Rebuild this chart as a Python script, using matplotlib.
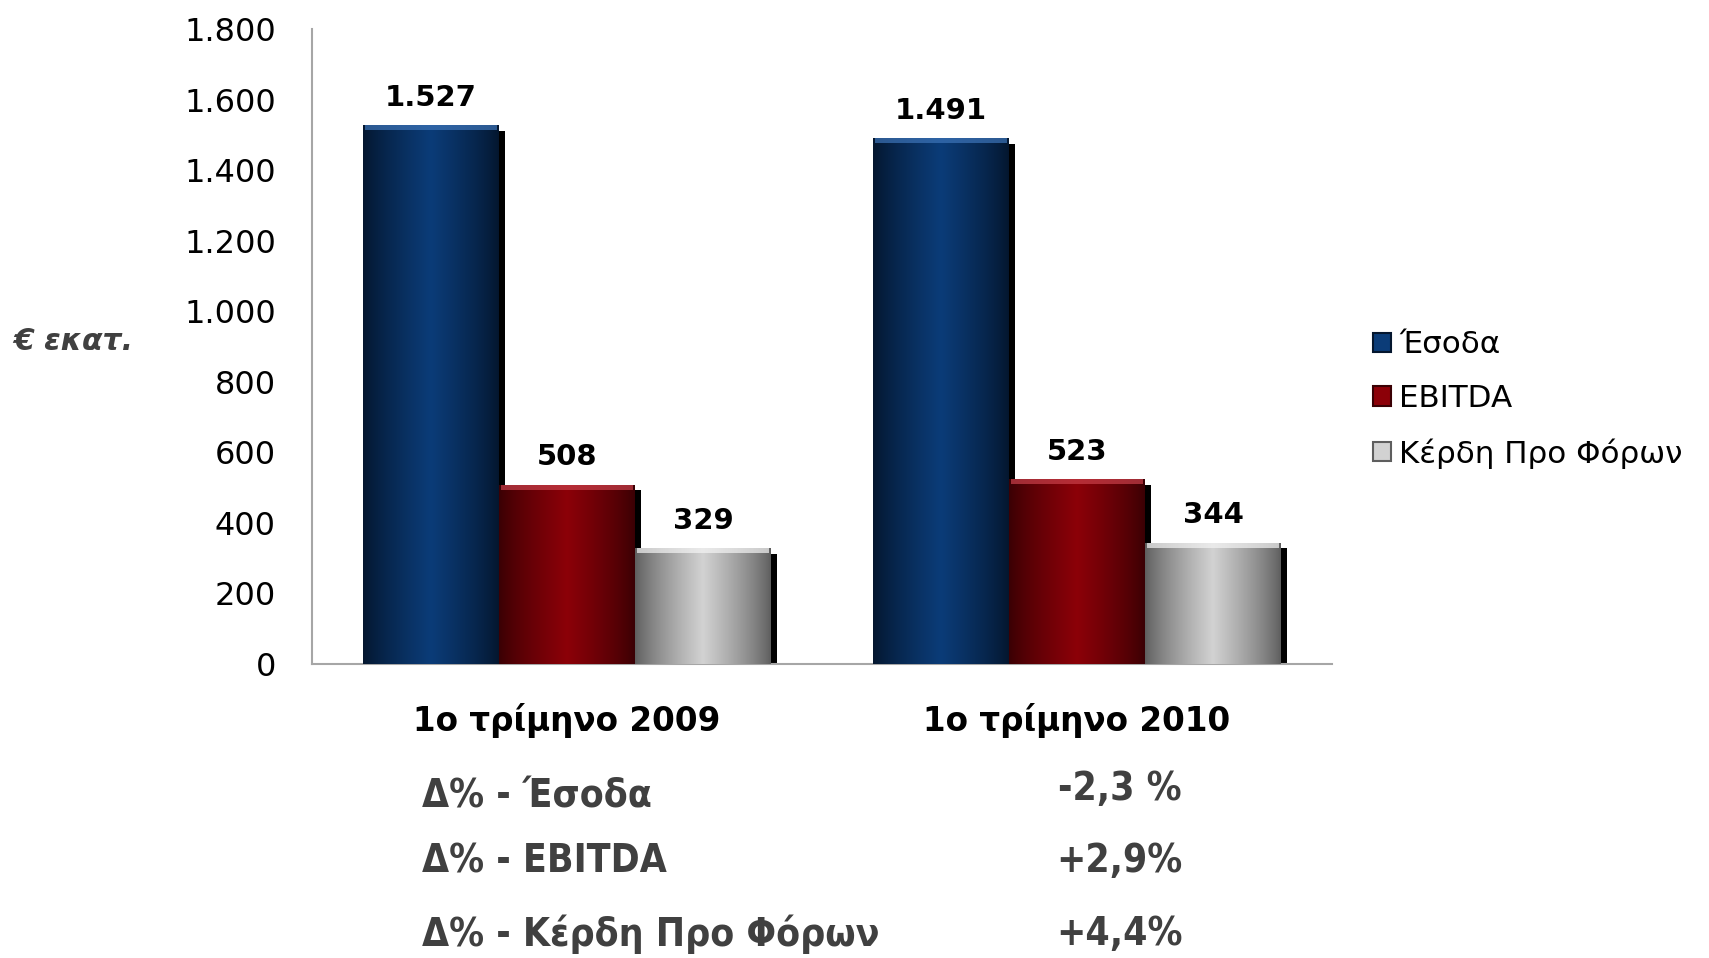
import numpy as np
import matplotlib
matplotlib.use('Agg')
from matplotlib import pyplot as plt
from matplotlib.colors import LinearSegmentedColormap
from matplotlib.patches import Patch

plt.rcParams['font.family'] = ['DejaVu Sans']

# data
categories = ['1ο τρίμηνο 2009', '1ο τρίμηνο 2010']
series_names = ['Έσοδα', 'EBITDA', 'Κέρδη Προ Φόρων']
esoda = [1527, 1491]
ebitda = [508, 523]
kerdi = [329, 344]
yticks = [0, 200, 400, 600, 800, 1000, 1200, 1400, 1600, 1800]
delta_labels = ['Δ% - Έσοδα', 'Δ% - EBITDA', 'Δ% - Κέρδη Προ Φόρων']
delta_values = ['-2,3 %', '+2,9%', '+4,4%']

# colours: edge / centre / top highlight
styles = [('#04162e', '#0b3c78', '#3d74b8'),
          ('#3a0004', '#8c0008', '#c8404a'),
          ('#5e5e5e', '#d2d2d2', '#f4f4f4')]


def fmt(v):
    return f'{v:,}'.replace(',', '.')


fig = plt.figure(figsize=(17.09, 9.58), dpi=100)
ax = fig.add_axes([0.1826, 0.3069, 0.5968, 0.6628])

w = 0.8 / 3
x = np.arange(len(categories))
grad = np.concatenate([np.linspace(0, 1, 60), np.linspace(1, 0, 60)[1:]])
grad = np.atleast_2d(grad ** 0.8)
sdx = 0.011
sdy = 16

for i, vals in enumerate([esoda, ebitda, kerdi]):
    edge, mid, top = styles[i]
    cmap = LinearSegmentedColormap.from_list('g%d' % i, [edge, mid])
    xs = x - w + i * w
    # shadow
    ax.bar(xs + sdx, np.array(vals) - sdy, width=w, color='black', zorder=1)
    bars = ax.bar(xs, vals, width=w, color=mid, zorder=2, linewidth=0)
    for b, v in zip(bars, vals):
        x0 = b.get_x()
        im = ax.imshow(grad, cmap=cmap, aspect='auto', zorder=3,
                       extent=[x0, x0 + w, 0, v], interpolation='bicubic')
        im.set_clip_path(b)
        # top bevel
        ax.bar(x0 + w / 2, 14, bottom=v - 14, width=w * 0.97, color=top,
               alpha=0.7, zorder=4, linewidth=0)
        ax.text(x0 + w / 2, v + 38, fmt(v), ha='center', va='bottom',
                fontsize=21, fontweight='bold', color='black', zorder=5)

ax.set_xlim(-0.5, 1.5)
ax.set_ylim(0, 1800)
ax.set_yticks(yticks)
ax.set_yticklabels([fmt(t) for t in yticks], fontsize=23)
ax.set_xticks(x)
ax.set_xticklabels(categories, fontsize=23.5, fontweight='bold')
ax.tick_params(axis='y', length=0, pad=26)
ax.tick_params(axis='x', length=0, pad=28)
for s in ['top', 'right']:
    ax.spines[s].set_visible(False)
for s in ['left', 'bottom']:
    ax.spines[s].set_color('#a6a6a6')
    ax.spines[s].set_linewidth(1.5)

fig.text(0.008, 0.644, '€ εκατ.', fontsize=21.5, fontweight='bold',
         fontstyle='italic', color='#404040', va='center')

handles = [Patch(facecolor=s[1], edgecolor=s[0], linewidth=1.5) for s in styles]
fig.legend(handles, series_names, loc='center left',
           bbox_to_anchor=(0.787, 0.583), frameon=False, fontsize=22.3,
           handlelength=0.6, handleheight=0.6, handletextpad=0.25,
           labelspacing=0.8)

ys = [0.169, 0.101, 0.025]
for lab, val, yy in zip(delta_labels, delta_values, ys):
    fig.text(0.247, yy, lab, fontsize=28, fontweight='bold', color='#404040',
             fontstretch='condensed', va='center')
    fig.text(0.655, yy + (0.007 if val.startswith('-') else 0), val,
             fontsize=28, fontweight='bold', color='#404040',
             fontstretch='condensed', va='center', ha='center')

fig.savefig('out.png', dpi=100)
